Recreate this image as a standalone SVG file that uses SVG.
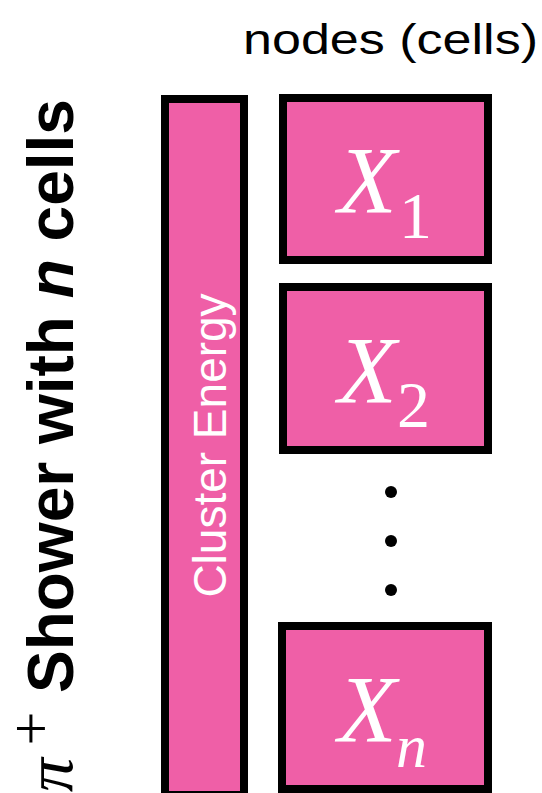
<svg xmlns="http://www.w3.org/2000/svg" width="542" height="793" viewBox="0 0 542 793">
<style>
.box{fill:#EF5FA7;stroke:#000;stroke-width:8}
.xl{font-family:"Liberation Serif",serif;font-style:italic;font-size:96px;fill:#fff}
.sub{font-family:"Liberation Serif",serif;font-size:66px;fill:#fff}
.subi{font-family:"Liberation Serif",serif;font-style:italic;font-size:62px;fill:#fff}
.sans{font-family:"Liberation Sans",Arial,sans-serif}
</style>
<rect width="542" height="793" fill="#fff"/>
<g id="title">
<text class="sans" transform="translate(73,693) rotate(-90)" font-size="64" font-weight="bold" fill="#000">Shower with <tspan font-style="italic">n</tspan> cells</text>
<text transform="translate(72,792) rotate(-90)" font-family="Liberation Serif,serif" font-style="italic" font-size="68" fill="#000">π</text>
<text x="31" y="748" text-anchor="middle" font-family="Liberation Serif,serif" font-size="60" fill="#000">+</text>
</g>
<g id="header">
<text class="sans" x="243" y="54" font-size="42" fill="#000" textLength="295" lengthAdjust="spacingAndGlyphs">nodes (cells)</text>
</g>
<g id="cluster">
<rect class="box" x="165" y="99" width="79" height="696"/>
<text class="sans" transform="translate(226,445.5) rotate(-90)" text-anchor="middle" font-size="46" fill="#fff">Cluster Energy</text>
</g>
<g id="x1">
<rect class="box" x="283" y="98" width="205" height="162"/>
<text class="xl" x="338" y="213">X</text>
<text class="sub" x="399" y="238">1</text>
</g>
<g id="x2">
<rect class="box" x="283" y="287" width="205" height="163"/>
<text class="xl" x="338" y="403">X</text>
<text class="sub" x="397" y="427">2</text>
</g>
<g id="dots">
<circle cx="391" cy="492" r="6"/>
<circle cx="391" cy="541" r="6"/>
<circle cx="391" cy="590" r="6"/>
</g>
<g id="xn">
<rect class="box" x="282" y="626" width="206" height="163"/>
<text class="xl" x="338" y="742">X</text>
<text class="subi" x="396" y="767">n</text>
</g>
<g id="connectors"/>
</svg>
